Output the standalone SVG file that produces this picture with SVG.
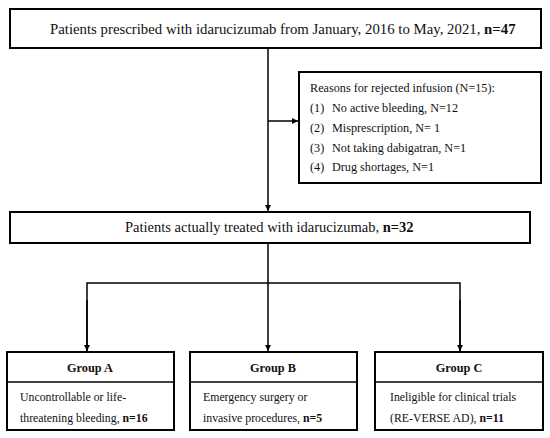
<svg xmlns="http://www.w3.org/2000/svg" width="550" height="438" viewBox="0 0 550 438">
<style>
.box{fill:#fff;stroke:#000;stroke-width:2}
.ln{fill:none;stroke:#000;stroke-width:1.5}
text{font-family:"Liberation Serif","Times New Roman",serif;fill:#111}
.t1{font-size:14.8px}
.t2{font-size:14.5px}
.r{font-size:12.2px}
.g{font-size:12.3px;font-weight:bold}
.b{font-size:11.8px}
</style>
<defs>
<marker id="ah" viewBox="0 0 10 10" refX="10" refY="5" markerWidth="6" markerHeight="6" markerUnits="userSpaceOnUse" orient="auto">
<path d="M0,0 L10,5 L0,10 z" fill="#000"/>
</marker>
</defs>
<g id="connectors">
<line class="ln" x1="268" y1="48" x2="268" y2="211" marker-end="url(#ah)"/>
<line class="ln" x1="268" y1="121" x2="298" y2="121" marker-end="url(#ah)"/>
<line class="ln" x1="268" y1="243" x2="268" y2="283"/>
<polyline class="ln" points="87,352 87,283 460,283 460,352"/>
<line class="ln" x1="87" y1="300" x2="87" y2="351" marker-end="url(#ah)"/>
<line class="ln" x1="268" y1="283" x2="268" y2="351" marker-end="url(#ah)"/>
<line class="ln" x1="460" y1="300" x2="460" y2="351" marker-end="url(#ah)"/>
</g>
<g id="top">
<rect class="box" x="10" y="9" width="531" height="39"/>
<text class="t1" x="50" y="34">Patients prescribed with idarucizumab from January, 2016 to May, 2021, <tspan font-weight="bold">n=47</tspan></text>
</g>
<g id="reasons">
<rect class="box" x="299" y="72" width="242" height="111"/>
<text class="r" x="310" y="92">Reasons for rejected infusion (N=15):</text>
<text class="r" x="310" y="112">(1)</text><text class="r" x="332" y="112">No active bleeding, N=12</text>
<text class="r" x="310" y="132">(2)</text><text class="r" x="332" y="132">Misprescription, N= 1</text>
<text class="r" x="310" y="152">(3)</text><text class="r" x="332" y="152">Not taking dabigatran, N=1</text>
<text class="r" x="310" y="171">(4)</text><text class="r" x="332" y="171">Drug shortages, N=1</text>
</g>
<g id="treated">
<rect class="box" x="10" y="212" width="520" height="31"/>
<text class="t2" x="125" y="232">Patients actually treated with idarucizumab, <tspan font-weight="bold">n=32</tspan></text>
</g>
<g id="groupA">
<rect class="box" x="7" y="352" width="167" height="78"/>
<line class="ln" x1="7" y1="382" x2="174" y2="382" stroke-width="2"/>
<text class="g" x="90" y="372" text-anchor="middle">Group A</text>
<text class="b" x="20" y="401">Uncontrollable or life-</text>
<text class="b" x="20" y="422">threatening bleeding, <tspan font-weight="bold">n=16</tspan></text>
</g>
<g id="groupB">
<rect class="box" x="190" y="352" width="167" height="78"/>
<line class="ln" x1="190" y1="382" x2="357" y2="382" stroke-width="2"/>
<text class="g" x="273" y="372" text-anchor="middle">Group B</text>
<text class="b" x="203" y="401">Emergency surgery or</text>
<text class="b" x="203" y="422">invasive procedures, <tspan font-weight="bold">n=5</tspan></text>
</g>
<g id="groupC">
<rect class="box" x="375" y="352" width="168" height="78"/>
<line class="ln" x1="375" y1="382" x2="543" y2="382" stroke-width="2"/>
<text class="g" x="459" y="372" text-anchor="middle">Group C</text>
<text class="b" x="390" y="401">Ineligible for clinical trials</text>
<text class="b" x="390" y="422">(RE-VERSE AD), <tspan font-weight="bold">n=11</tspan></text>
</g>
</svg>
